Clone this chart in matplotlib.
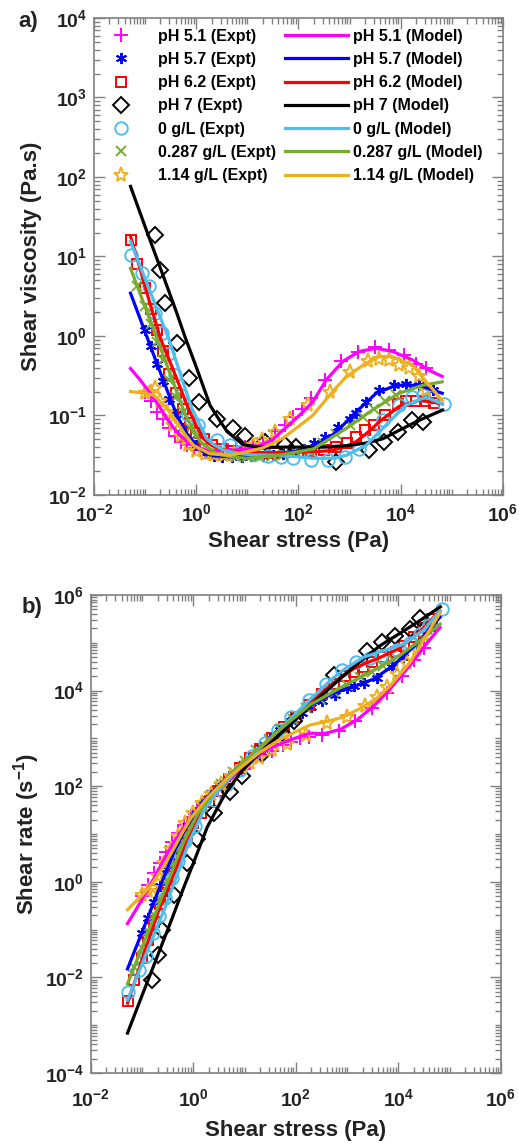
import numpy as np
import matplotlib
matplotlib.use('Agg')
import matplotlib.pyplot as plt
from matplotlib.ticker import LogLocator, NullFormatter, FuncFormatter

plt.rcParams['font.family'] = 'Liberation Sans'
plt.rcParams['font.weight'] = 'bold'
plt.rcParams['mathtext.fontset'] = 'custom'
plt.rcParams['mathtext.rm'] = 'Liberation Sans:bold'
plt.rcParams['mathtext.it'] = 'Liberation Sans:bold'
plt.rcParams['mathtext.bf'] = 'Liberation Sans:bold'
plt.rcParams['mathtext.default'] = 'rm'

#=============== Experimental data: shear stress (Pa) / viscosity (Pa.s) ===============
ph51_x = [0.10, 0.13, 0.17, 0.22, 0.29, 0.38, 0.5, 0.66, 0.9, 1.2, 1.6, 2.2, 3.0, 4.2, 6, 9, 13,
          20, 35, 55, 80, 120, 178, 325, 690, 1450, 3080, 6000, 11800, 20000, 31000]
ph51_eta = [0.2, 0.15, 0.11, 0.09, 0.07, 0.055, 0.047, 0.042, 0.039, 0.037, 0.036, 0.036, 0.036,
            0.037, 0.038, 0.04, 0.042, 0.045, 0.063, 0.075, 0.096, 0.12, 0.164, 0.28, 0.48, 0.635,
            0.73, 0.67, 0.58, 0.45, 0.39]

ph57_x = [0.1, 0.13, 0.17, 0.22, 0.3, 0.4, 0.55, 0.75, 1.0, 1.5, 2.2, 3.2, 5, 8, 12, 20, 32, 50,
          80, 130, 200, 325, 590, 1000, 1350, 2100, 3850, 7500, 12600, 23000, 42000]
ph57_eta = [1.2, 0.75, 0.45, 0.27, 0.16, 0.105, 0.07, 0.05, 0.042, 0.034, 0.031, 0.03, 0.03, 0.03,
            0.031, 0.031, 0.032, 0.033, 0.035, 0.038, 0.045, 0.054, 0.072, 0.09, 0.106, 0.148,
            0.21, 0.24, 0.25, 0.24, 0.21]

ph62_x = [0.052, 0.07, 0.1, 0.13, 0.17, 0.22, 0.3, 0.4, 0.55, 0.75, 1.0, 1.4, 2, 3, 5, 8, 13, 20,
          35, 60, 100, 180, 320, 550, 900, 1350, 2000, 3000, 5000, 9000, 13000, 20000, 30000, 45000]
ph62_eta = [16, 8, 4.0, 2.2, 1.2, 0.65, 0.33, 0.19, 0.12, 0.08, 0.06, 0.05, 0.042, 0.038, 0.036,
            0.034, 0.034, 0.034, 0.034, 0.035, 0.035, 0.036, 0.037, 0.04, 0.045, 0.054, 0.065,
            0.075, 0.1, 0.14, 0.15, 0.15, 0.15, 0.145]

ph7_x = [0.159, 0.2, 0.25, 0.42, 0.74, 1.16, 2.5, 5.3, 9.0, 22, 54, 91, 550, 2450, 4800, 8700,
         17000, 27000]
ph7_eta = [18.4, 6.8, 2.6, 0.81, 0.295, 0.146, 0.091, 0.069, 0.055, 0.047, 0.042, 0.040, 0.026,
           0.037, 0.047, 0.062, 0.087, 0.083]

g0_x = [0.052, 0.087, 0.118, 0.16, 0.21, 0.28, 0.38, 0.5, 0.7, 1.1, 2.5, 4.6, 8, 14, 25, 45, 80,
        178, 380, 800, 1500, 2850, 4500, 9300, 17000, 27000, 40000, 71000]
g0_eta = [10.5, 6.2, 4.2, 1.93, 1.1, 0.6, 0.32, 0.18, 0.1, 0.076, 0.049, 0.042, 0.036, 0.033,
          0.031, 0.03, 0.029, 0.0275, 0.0275, 0.03, 0.038, 0.059, 0.087, 0.135, 0.17, 0.18, 0.17, 0.14]

g287_x = [0.07, 0.1, 0.13, 0.17, 0.22, 0.3, 0.4, 0.55, 0.75, 1.0, 1.5, 2.2, 3.5, 6, 10, 17, 30, 50,
          90, 160, 300, 550, 1000, 1800, 3000, 5000, 8000]
g287_eta = [4.2, 2.4, 1.4, 0.85, 0.5, 0.28, 0.17, 0.11, 0.07, 0.055, 0.04, 0.034, 0.031, 0.03, 0.03,
            0.03, 0.031, 0.032, 0.035, 0.037, 0.045, 0.058, 0.075, 0.095, 0.12, 0.15, 0.18]

g114_x = [0.1, 0.13, 0.16, 0.2, 0.27, 0.36, 0.5, 0.7, 1.0, 1.5, 2.2, 3.5, 5.5, 9, 13, 19, 35, 68,
          155, 410, 1000, 2280, 3800, 6000, 9400, 14800, 23000, 31000]
g114_eta = [0.19, 0.2, 0.22, 0.15, 0.11, 0.075, 0.055, 0.042, 0.036, 0.033, 0.032, 0.032, 0.033,
            0.036, 0.042, 0.049, 0.062, 0.091, 0.135, 0.20, 0.355, 0.48, 0.52, 0.50, 0.43, 0.39,
            0.31, 0.21]

#=============== Model curves ===============
m51_x = [0.052, 0.08, 0.127, 0.19, 0.27, 0.4, 0.66, 1.0, 1.6, 3, 5.3, 10, 18, 32, 43, 79, 130, 193,
         350, 740, 1550, 3300, 6900, 17000, 36000, 65000]
m51_eta = [0.39, 0.28, 0.19, 0.13, 0.091, 0.064, 0.047, 0.040, 0.0366, 0.036, 0.0366, 0.038, 0.042,
           0.05, 0.06, 0.085, 0.115, 0.15, 0.28, 0.48, 0.64, 0.70, 0.64, 0.50, 0.37, 0.31]

m57_x = [0.052, 0.08, 0.148, 0.25, 0.42, 0.7, 1.03, 1.5, 2.5, 5, 10, 20, 43, 100, 195, 350, 550,
         1350, 3300, 8100, 23000, 65000]
m57_eta = [3.45, 1.65, 0.575, 0.236, 0.10, 0.055, 0.042, 0.033, 0.031, 0.030, 0.030, 0.031, 0.033,
           0.036, 0.040, 0.05, 0.062, 0.111, 0.19, 0.24, 0.24, 0.19]

m62_x = [0.052, 0.08, 0.12, 0.2, 0.4, 0.66, 1.0, 1.38, 2, 2.95, 5, 10, 43, 200, 407, 800, 1350,
         2400, 3800, 9300, 23000, 65000]
m62_eta = [17.9, 7.0, 2.8, 0.93, 0.31, 0.135, 0.075, 0.051, 0.042, 0.038, 0.035, 0.034, 0.034,
           0.035, 0.036, 0.04, 0.047, 0.063, 0.083, 0.13, 0.156, 0.14]

m7_x = [0.052, 0.1, 0.2, 0.4, 0.62, 1.0, 1.86, 2.8, 4.0, 8.3, 16, 50, 316, 1000, 2100, 4500, 9300,
        23000, 66000]
m7_eta = [76, 23.8, 7.1, 2.1, 0.93, 0.41, 0.135, 0.089, 0.063, 0.043, 0.040, 0.040, 0.040, 0.042,
          0.045, 0.051, 0.065, 0.087, 0.117]

m0_x = [0.052, 0.08, 0.12, 0.18, 0.29, 0.5, 0.82, 1.3, 1.62, 2.2, 3.4, 6, 12, 43, 195, 500, 870,
        2100, 5100, 12600, 31000, 65000]
m0_eta = [15.5, 7.6, 3.9, 2.0, 0.93, 0.32, 0.123, 0.068, 0.051, 0.043, 0.0366, 0.034, 0.032,
          0.0316, 0.029, 0.029, 0.0316, 0.042, 0.075, 0.135, 0.17, 0.14]

m287_x = [0.052, 0.08, 0.12, 0.2, 0.35, 0.62, 1.2, 2.5, 5, 10, 43, 195, 870, 2800, 9300, 27000, 65000]
m287_eta = [7.1, 3.4, 1.7, 0.71, 0.27, 0.10, 0.047, 0.033, 0.030, 0.029, 0.0316, 0.038, 0.069,
            0.117, 0.19, 0.24, 0.265]

m114_x = [0.052, 0.1, 0.148, 0.25, 0.42, 0.6, 0.89, 1.86, 4.6, 9.7, 20, 32, 50, 107, 190, 295, 500,
          830, 2040, 3800, 6900, 17000, 31000, 65000]
m114_eta = [0.20, 0.19, 0.18, 0.13, 0.083, 0.058, 0.042, 0.033, 0.0316, 0.035, 0.039, 0.045, 0.052,
            0.075, 0.1, 0.14, 0.21, 0.3, 0.45, 0.55, 0.55, 0.43, 0.27, 0.155]

labels = ['pH 5.1', 'pH 5.7', 'pH 6.2', 'pH 7', '0 g/L', '0.287 g/L', '1.14 g/L']
colors = ['#FF00FF', '#0000FF', '#FF0000', '#000000', '#4DBEEE', '#77AC30', '#EDB120']
markers = ['+', (6, 2, 0), 's', 'D', 'o', 'x', '*']
msizes = [10, 8, 7, 8, 9, 7, 11]

expt = [(ph51_x, ph51_eta), (ph57_x, ph57_eta), (ph62_x, ph62_eta), (ph7_x, ph7_eta),
        (g0_x, g0_eta), (g287_x, g287_eta), (g114_x, g114_eta)]
model = [(m51_x, m51_eta), (m57_x, m57_eta), (m62_x, m62_eta), (m7_x, m7_eta),
         (m0_x, m0_eta), (m287_x, m287_eta), (m114_x, m114_eta)]

fig = plt.figure(figsize=(5.19, 11.45), dpi=100)
ax1 = fig.add_axes([0.181, 0.5677, 0.788, 0.4166])
ax2 = fig.add_axes([0.175, 0.0629, 0.790, 0.4175])

h_expt = []
h_model = []
for ax, rate in [(ax1, False), (ax2, True)]:
    for i in range(7):
        x = np.array(expt[i][0])
        y = np.array(expt[i][1])
        if rate:
            y = x / y  # shear rate = stress / viscosity
        h, = ax.plot(x, y, linestyle='none', marker=markers[i], ms=msizes[i], mfc='none',
                     mec=colors[i], mew=1.4, label=labels[i] + ' (Expt)')
        if not rate:
            h_expt.append(h)
    for i in range(7):
        x = np.array(model[i][0])
        y = np.array(model[i][1])
        if rate:
            y = x / y
        h, = ax.plot(x, y, '-', color=colors[i], lw=2.3, label=labels[i] + ' (Model)')
        if not rate:
            h_model.append(h)

def fmt(v, pos):
    return r'$10^{%d}$' % int(round(np.log10(v)))

for ax, ylo, yhi, yt, tpad, lpad in [(ax1, 1e-2, 1e4, [10.0**k for k in range(-2, 5)], 6, 4),
                                     (ax2, 1e-4, 1e6, [10.0**k for k in range(-4, 7, 2)], 11, 7)]:
    ax.set_xscale('log')
    ax.set_yscale('log')
    ax.set_xlim(1e-2, 1e6)
    ax.set_ylim(ylo, yhi)
    ax.set_xticks([1e-2, 1e0, 1e2, 1e4, 1e6])
    ax.set_yticks(yt)
    ax.xaxis.set_minor_locator(LogLocator(base=10, subs=np.arange(1, 10), numticks=100))
    ax.yaxis.set_minor_locator(LogLocator(base=10, subs=np.arange(1, 10), numticks=100))
    ax.xaxis.set_major_formatter(FuncFormatter(fmt))
    ax.yaxis.set_major_formatter(FuncFormatter(fmt))
    ax.xaxis.set_minor_formatter(NullFormatter())
    ax.yaxis.set_minor_formatter(NullFormatter())
    ax.tick_params(which='both', direction='in', top=True, right=True, color='#808080',
                   labelcolor='#222222', labelsize=14, width=1.0)
    ax.tick_params(which='major', length=8, pad=5)
    ax.tick_params(axis='x', which='major', pad=tpad)
    ax.tick_params(which='minor', length=4)
    for s in ax.spines.values():
        s.set_color('#808080')
        s.set_linewidth(1.2)
    ax.set_xlabel('Shear stress (Pa)', fontsize=16, fontweight='bold', color='#222222', labelpad=lpad)

ax1.set_ylabel('Shear viscosity (Pa.s)', fontsize=16, fontweight='bold', color='#222222', labelpad=4)
ax2.set_ylabel('Shear rate (s$^{-1}$)', fontsize=16, fontweight='bold', color='#222222', labelpad=2)

ax1.legend(h_expt + h_model, [h.get_label() for h in h_expt + h_model], ncol=2, frameon=False,
           loc='upper left', bbox_to_anchor=(-0.045, 1.008), handlelength=3.95,
           handletextpad=0.3, columnspacing=0.6, labelspacing=0.52, numpoints=1,
           prop={'weight': 'bold', 'size': 11.5})

fig.text(0.054, 0.981, 'a)', fontsize=16, fontweight='bold', color='#222222', va='center', ha='center')
fig.text(0.062, 0.469, 'b)', fontsize=16, fontweight='bold', color='#222222', va='center', ha='center')

fig.savefig('out.png', dpi=100)
